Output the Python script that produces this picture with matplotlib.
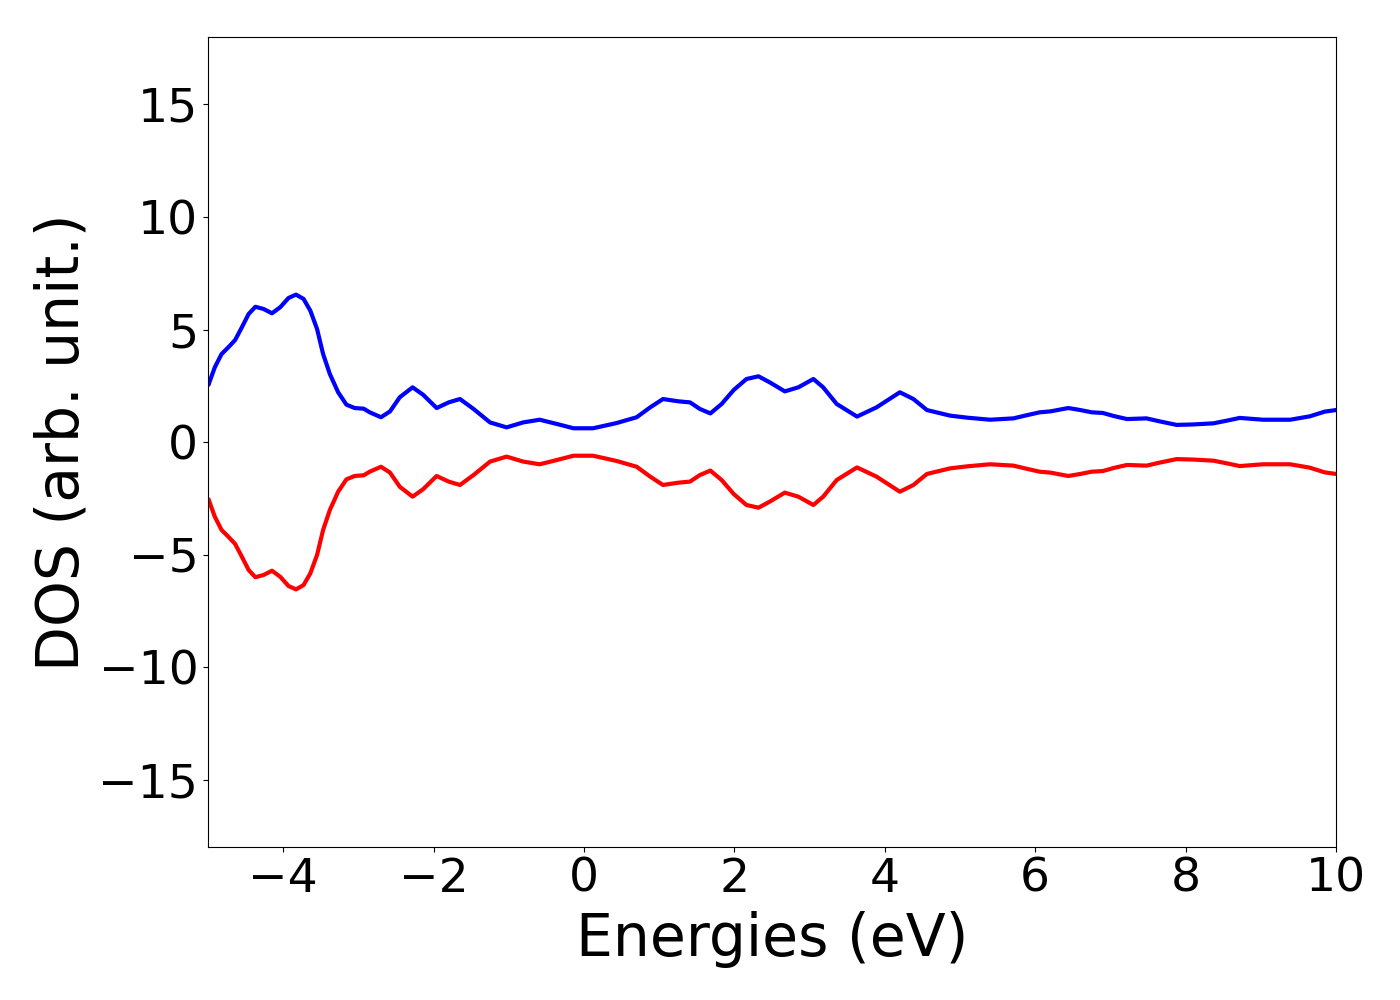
import matplotlib
matplotlib.use("Agg")
import matplotlib.pyplot as plt

energies = [-4.99, -4.91, -4.82, -4.73, -4.64, -4.55, -4.46, -4.37, -4.26, -4.15,
            -4.04, -3.93, -3.83, -3.73, -3.64, -3.55, -3.47, -3.38, -3.27, -3.16,
            -3.05, -2.93, -2.85, -2.70, -2.58, -2.45, -2.28, -2.14, -1.96, -1.80,
            -1.65, -1.47, -1.25, -1.03, -0.81, -0.59, -0.36, -0.14, 0.12, 0.43,
            0.70, 0.88, 1.05, 1.25, 1.41, 1.54, 1.68, 1.83, 1.99, 2.16,
            2.32, 2.47, 2.67, 2.85, 3.05, 3.18, 3.36, 3.63, 3.89, 4.20,
            4.38, 4.56, 4.87, 5.10, 5.40, 5.71, 5.90, 6.06, 6.20, 6.44,
            6.60, 6.75, 6.90, 7.05, 7.22, 7.48, 7.65, 7.88, 8.10, 8.37,
            8.55, 8.72, 9.03, 9.39, 9.65, 9.85, 10.00]

dos_up = [2.58, 3.32, 3.91, 4.21, 4.53, 5.10, 5.69, 6.01, 5.91, 5.72,
          5.99, 6.40, 6.55, 6.36, 5.84, 5.02, 3.91, 3.02, 2.21, 1.66,
          1.51, 1.48, 1.32, 1.10, 1.36, 1.99, 2.43, 2.10, 1.51, 1.76,
          1.91, 1.47, 0.87, 0.65, 0.87, 0.99, 0.80, 0.61, 0.61, 0.84,
          1.10, 1.54, 1.91, 1.81, 1.76, 1.47, 1.27, 1.69, 2.31, 2.80,
          2.92, 2.65, 2.25, 2.43, 2.80, 2.43, 1.69, 1.13, 1.54, 2.21,
          1.91, 1.42, 1.17, 1.08, 0.99, 1.05, 1.20, 1.32, 1.36, 1.51,
          1.42, 1.32, 1.29, 1.15, 1.02, 1.05, 0.92, 0.76, 0.78, 0.83,
          0.95, 1.07, 0.99, 0.99, 1.14, 1.35, 1.42]

dos_down = [-2.58, -3.32, -3.91, -4.21, -4.53, -5.10, -5.69, -6.01, -5.91, -5.72,
            -5.99, -6.40, -6.55, -6.36, -5.84, -5.02, -3.91, -3.02, -2.21, -1.66,
            -1.51, -1.48, -1.32, -1.10, -1.36, -1.99, -2.43, -2.10, -1.51, -1.76,
            -1.91, -1.47, -0.87, -0.65, -0.87, -0.99, -0.80, -0.61, -0.61, -0.84,
            -1.10, -1.54, -1.91, -1.81, -1.76, -1.47, -1.27, -1.69, -2.31, -2.80,
            -2.92, -2.65, -2.25, -2.43, -2.80, -2.43, -1.69, -1.13, -1.54, -2.21,
            -1.91, -1.42, -1.17, -1.08, -0.99, -1.05, -1.20, -1.32, -1.36, -1.51,
            -1.42, -1.32, -1.29, -1.15, -1.02, -1.05, -0.92, -0.76, -0.78, -0.83,
            -0.95, -1.07, -0.99, -0.99, -1.14, -1.35, -1.42]

xticks = [-4, -2, 0, 2, 4, 6, 8, 10]
yticks = [-15, -10, -5, 0, 5, 10, 15]

fig = plt.figure(figsize=(14, 10), dpi=100)
ax = fig.add_axes([0.1486, 0.153, 0.8057, 0.810])
ax.plot(energies, dos_up, color="blue", lw=3, solid_joinstyle="round")
ax.plot(energies, dos_down, color="red", lw=3, solid_joinstyle="round")
ax.set_xlim(-5, 10)
ax.set_ylim(-18, 18)
ax.set_xticks(xticks)
ax.set_yticks(yticks)
ax.tick_params(labelsize=34)
ax.set_xlabel("Energies (eV)", fontsize=42, labelpad=7)
ax.set_ylabel("DOS (arb. unit.)", fontsize=42, labelpad=6)
fig.savefig("out.png", dpi=100)
